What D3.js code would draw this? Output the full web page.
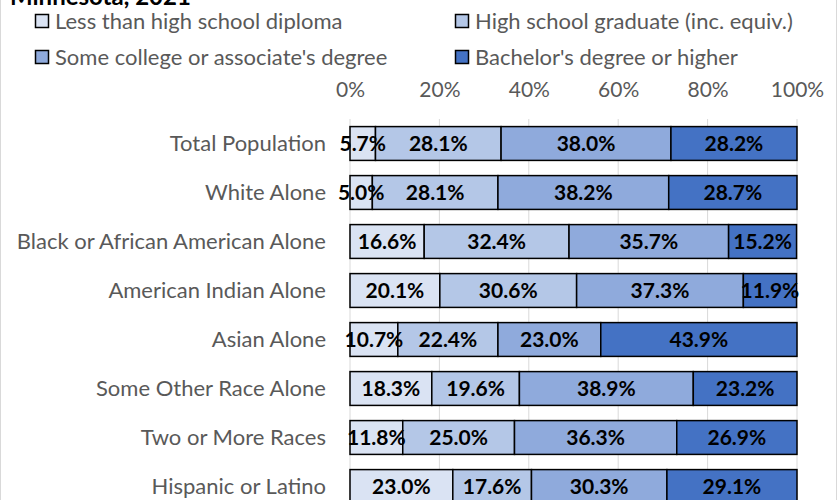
<!DOCTYPE html>
<html><head><meta charset="utf-8">
<script src="https://cdn.jsdelivr.net/npm/d3@7"></script>
<style>body{margin:0;background:#fff}svg{display:block}</style>
</head><body><svg id="c" width="840" height="500"></svg>
<script>
const categories = ["Total Population","White Alone","Black or African American Alone","American Indian Alone","Asian Alone","Some Other Race Alone","Two or More Races","Hispanic or Latino"];
const seriesNames = ["Less than high school diploma","High school graduate (inc. equiv.)","Some college or associate's degree","Bachelor's degree or higher"];
const lessThanHS = [5.7,5.0,16.6,20.1,10.7,18.3,11.8,23.0];
const hsGrad     = [28.1,28.1,32.4,30.6,22.4,19.6,25.0,17.6];
const someCollege= [38.0,38.2,35.7,37.3,23.0,38.9,36.3,30.3];
const bachelors  = [28.2,28.7,15.2,11.9,43.9,23.2,26.9,29.1];
const tickValues = [0,20,40,60,80,100];
const colors = ["#dae3f3","#b4c7e7","#8faadc","#4472c4"];

const svg = d3.select("#c");
const F = "Lato, 'Open Sans', sans-serif";
const series = [lessThanHS,hsGrad,someCollege,bachelors];
const rows = categories.map((c,i)=>{const o={cat:c}; series.forEach((s,j)=>o["s"+j]=s[i]); return o;});
const keys = ["s0","s1","s2","s3"];
const stack = d3.stack().keys(keys)(rows);

// frame
svg.append("rect").attr("x",0.5).attr("y",-10).attr("width",836).attr("height",520).attr("fill","#fff").attr("stroke","#d9d9d9");

// title (top part cut off, as in the reference)
svg.append("text").attr("x",10).attr("y",5).attr("font-family",F).attr("font-weight","bold").attr("font-size",24).attr("fill","#000").text("Minnesota, 2021");

const x = d3.scaleLinear().domain([0,100]).range([350,797]);
const y = d3.scaleBand().domain(categories).range([119,119+49*8]).paddingInner(0.31).paddingOuter(0.155);

// gridlines
svg.append("g").selectAll("line").data(tickValues).join("line")
  .attr("x1",d=>x(d)).attr("x2",d=>x(d)).attr("y1",119).attr("y2",500)
  .attr("stroke","#d9d9d9").attr("stroke-width",1);

// top axis labels
const ax = d3.axisTop(x).tickValues(tickValues).tickFormat(d=>d+"%").tickSize(0).tickPadding(0);
const gAx = svg.append("g").attr("transform","translate(0,97)").call(ax);
gAx.select(".domain").remove();
gAx.selectAll("text").attr("font-family",F).attr("font-size",21).attr("fill","#595959");

// category axis
const ay = d3.axisLeft(y).tickSize(0).tickPadding(24);
const gAy = svg.append("g").attr("transform","translate(350,0)").call(ay);
gAy.select(".domain").remove();
gAy.selectAll("text").attr("font-family",F).attr("font-size",22).attr("fill","#595959");

// bars
const gS = svg.append("g").selectAll("g").data(stack).join("g").attr("fill",(d,i)=>colors[i]);
gS.selectAll("rect").data(d=>d).join("rect")
  .attr("x",d=>x(d[0])).attr("width",d=>x(d[1])-x(d[0]))
  .attr("y",d=>y(d.data.cat)).attr("height",y.bandwidth())
  .attr("stroke","#000").attr("stroke-width",1.5);

// labels
const gL = svg.append("g").selectAll("g").data(stack).join("g");
gL.selectAll("text").data(d=>d).join("text")
  .attr("x",d=>x((d[0]+d[1])/2)).attr("y",d=>y(d.data.cat)+y.bandwidth()/2)
  .attr("dy","0.37em").attr("text-anchor","middle")
  .attr("font-family",F).attr("font-weight","bold").attr("font-size",21).attr("fill","#000")
  .text(d=>(d[1]-d[0]).toFixed(1)+"%");

// legend
const legPos = [[35,21],[455,21],[35,57],[455,57]];
const gLeg = svg.append("g").selectAll("g").data(seriesNames).join("g")
  .attr("transform",(d,i)=>`translate(${legPos[i][0]},${legPos[i][1]})`);
gLeg.append("rect").attr("x",0.5).attr("y",-6.5).attr("width",13).attr("height",13)
  .attr("fill",(d,i)=>colors[i]).attr("stroke","#000").attr("stroke-width",1.5);
gLeg.append("text").attr("x",20).attr("dy","0.35em").attr("font-family",F).attr("font-size",22).attr("fill","#595959").text(d=>d);
</script></body></html>
